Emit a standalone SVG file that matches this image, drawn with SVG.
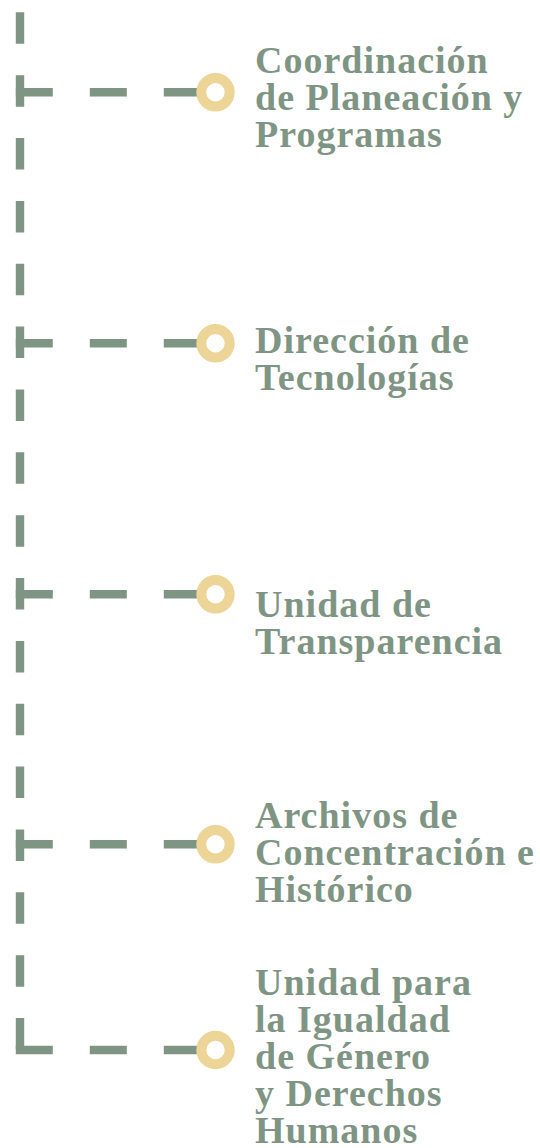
<svg xmlns="http://www.w3.org/2000/svg" width="540" height="1148" viewBox="0 0 540 1148">
  <style>
    .ln { stroke: #7f9584; stroke-width: 8.4; fill: none; }
    .v { stroke-dasharray: 31.5 31.36; }
    .h { stroke-dasharray: 37 37; }
    .ring { fill: none; stroke: #edd597; stroke-width: 10; }
    .lbl { font-family: "Liberation Serif", "Times New Roman", serif; font-weight: bold; font-size: 38px; letter-spacing: 1px; fill: #7f9584; }
  </style>
  <rect width="540" height="1148" fill="#ffffff"/>
  <g id="connectors">
    <line class="ln v" x1="20" y1="12.3" x2="20" y2="1051.5"/>
    <line class="ln h" x1="15.8" y1="92.3" x2="200" y2="92.3"/>
    <line class="ln h" x1="15.8" y1="343.3" x2="200" y2="343.3"/>
    <line class="ln h" x1="15.8" y1="594.3" x2="200" y2="594.3"/>
    <line class="ln h" x1="15.8" y1="844.3" x2="200" y2="844.3"/>
    <line class="ln h" x1="15.8" y1="1050" x2="200" y2="1050"/>
  </g>
  <g id="node-coordinacion">
    <circle class="ring" cx="215.5" cy="92.3" r="14.2"/>
    <text class="lbl" x="255"><tspan x="255" y="73">Coordinación</tspan><tspan x="255" y="110">de Planeación y</tspan><tspan x="255" y="147">Programas</tspan></text>
  </g>
  <g id="node-tecnologias">
    <circle class="ring" cx="215.5" cy="343.3" r="14.2"/>
    <text class="lbl" x="255"><tspan x="255" y="353">Dirección de</tspan><tspan x="255" y="390">Tecnologías</tspan></text>
  </g>
  <g id="node-transparencia">
    <circle class="ring" cx="215.5" cy="594.3" r="14.2"/>
    <text class="lbl" x="255"><tspan x="255" y="617">Unidad de</tspan><tspan x="255" y="654">Transparencia</tspan></text>
  </g>
  <g id="node-archivos">
    <circle class="ring" cx="215.5" cy="844.3" r="14.2"/>
    <text class="lbl" x="255"><tspan x="255" y="828">Archivos de</tspan><tspan x="255" y="865">Concentración e</tspan><tspan x="255" y="902">Histórico</tspan></text>
  </g>
  <g id="node-igualdad">
    <circle class="ring" cx="215.5" cy="1050" r="14.2"/>
    <text class="lbl" x="255"><tspan x="255" y="995">Unidad para</tspan><tspan x="255" y="1032">la Igualdad</tspan><tspan x="255" y="1069">de Género</tspan><tspan x="255" y="1106">y Derechos</tspan><tspan x="255" y="1143">Humanos</tspan></text>
  </g>
</svg>
